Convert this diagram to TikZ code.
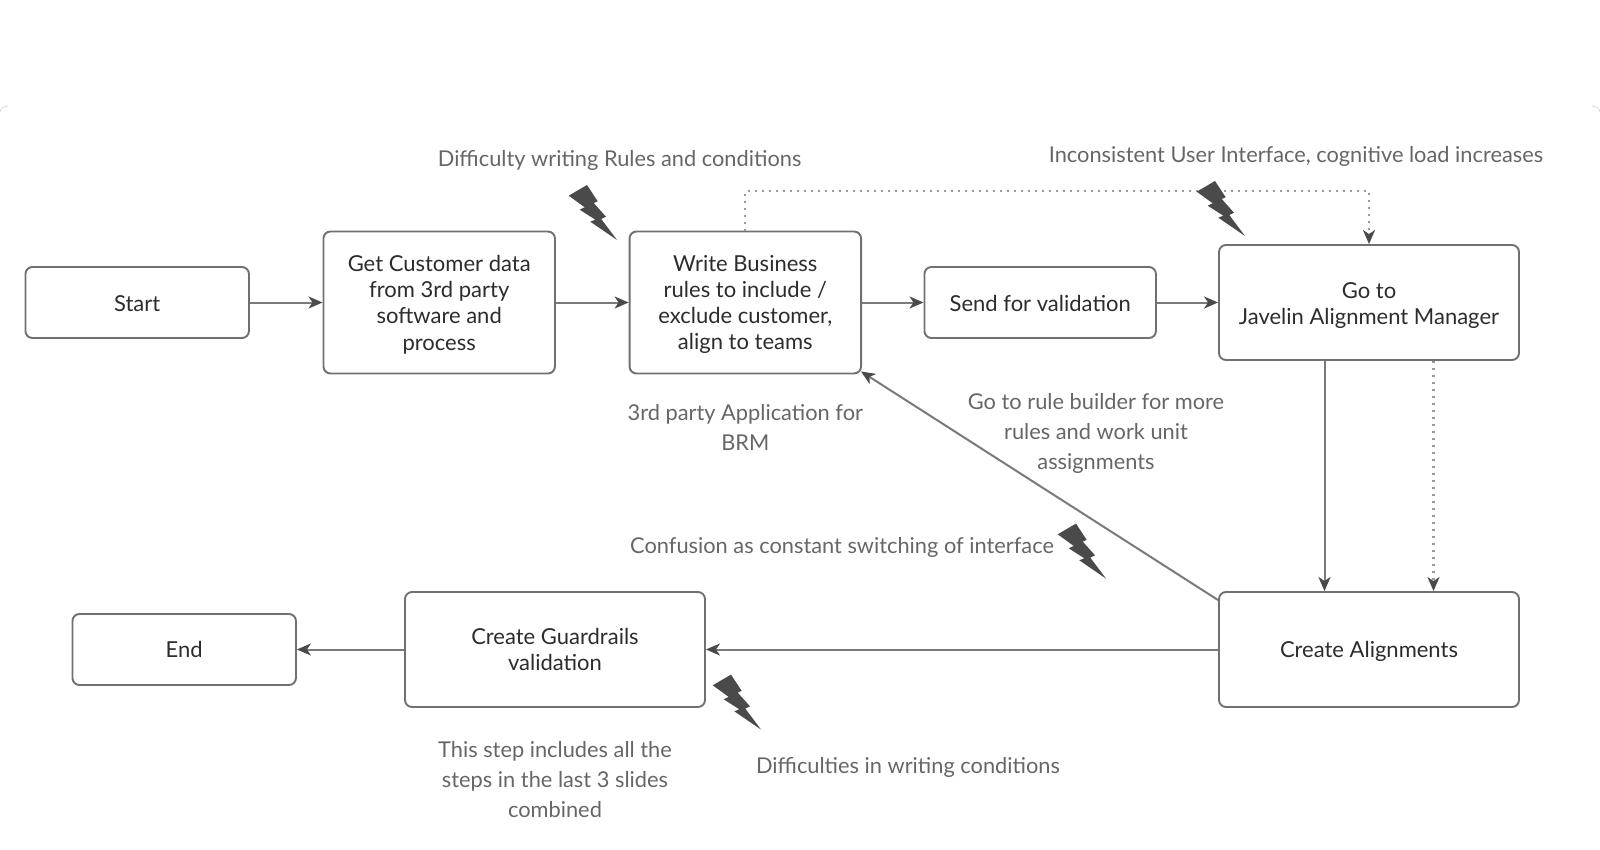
\documentclass[tikz,border=0pt]{standalone}
\usepackage{fontspec}
\setmainfont{Lato}
\usetikzlibrary{arrows.meta}
\definecolor{lineC}{HTML}{707070}
\definecolor{connC}{HTML}{7A7A7A}
\definecolor{dotC}{HTML}{999999}
\definecolor{boxT}{HTML}{2C2C2C}
\definecolor{noteT}{HTML}{666666}
\definecolor{boltC}{HTML}{4A4A4A}
\tikzset{
  x=1pt,y=-1pt,
  flowbox/.style={draw=lineC,line width=1.9pt,rounded corners=7pt,inner sep=0pt},
  boxtext/.style={align=center,text=boxT,inner sep=0pt,font=\fontsize{22}{26.2}\selectfont},
  note/.style={align=center,text=noteT,inner sep=0pt,font=\fontsize{21.8}{30}\selectfont},
  conn/.style={draw=connC,line width=2pt,-{Stealth[inset=4pt,length=14pt,width=12pt,color=boltC]}},
  dotconn/.style={draw=dotC,line width=2.2pt,dash pattern=on 2pt off 5pt,-{Stealth[inset=4pt,length=14pt,width=12pt,color=boltC]}},
  bolt/.pic={\fill[boltC] (0,0) -- (-26.7,-18.3) -- (-21.7,-20.3) -- (-37.3,-30.3) -- (-32.3,-32.7) -- (-48.3,-44.3) -- (-30,-55) -- (-19.3,-38.7) -- (-23.3,-37) -- (-11,-23.3) -- (-15.7,-21) -- cycle;}
}
\begin{document}
\begin{tikzpicture}
\useasboundingbox (0,0) rectangle (1600,850);
\draw[gray!30,line width=.8pt] (0,112) .. controls (1,108) and (3,107) .. (8,106);
\draw[gray!30,line width=.8pt] (1600,112) .. controls (1599,108) and (1597,107) .. (1592,106);

\node[flowbox,minimum width=223.5pt,minimum height=71pt,label={[boxtext,yshift=-1pt]center:Start}] (start) at (137.2,302.5) {};
\node[flowbox,minimum width=231.5pt,minimum height=142pt,label={[boxtext,yshift=-2pt]center:{Get Customer data\\from 3rd party\\software and\\process}}] (get) at (439.2,302.5) {};
\node[flowbox,minimum width=231.5pt,minimum height=142pt,label={[boxtext,yshift=-2pt]center:{Write Business\\rules to include /\\exclude customer,\\align to teams}}] (write) at (745.3,302.5) {};
\node[flowbox,minimum width=231.5pt,minimum height=71pt,label={[boxtext,yshift=-1pt]center:Send for validation}] (send) at (1040.2,302.5) {};
\node[flowbox,minimum width=300pt,minimum height=115pt,label={[boxtext,yshift=-3pt]center:{Go to\\Javelin Alignment Manager}}] (go) at (1369,302.5) {};
\node[flowbox,minimum width=300pt,minimum height=115pt,label={[boxtext,yshift=-2pt]center:Create Alignments}] (align) at (1369,649.5) {};
\node[flowbox,minimum width=300pt,minimum height=115pt,label={[boxtext]center:{Create Guardrails\\validation}}] (guard) at (555,649.5) {};
\node[flowbox,minimum width=223.5pt,minimum height=71pt,label={[boxtext]center:End}] (end) at (184.2,649.5) {};

\node[note] (n1) at (619.6,160) {Difficulty writing Rules and conditions};
\node[note] (n2) at (1296,156.5) {Inconsistent User Interface, cognitive load increases};
\node[note] (n3) at (745.3,427) {3rd party Application for\\BRM};
\node[note] (n4) at (1096,433.5) {Go to rule builder for more\\rules and work unit\\assignments};
\node[note] (n5) at (842,547) {Confusion as constant switching of interface};
\node[note] (n6) at (908,767) {Difficulties in writing conditions};
\node[note] (n7) at (555,780) {This step includes all the\\steps in the last 3 slides\\combined};

\draw[conn] (start) -- (get);
\draw[conn] (get) -- (write);
\draw[conn] (write) -- (send);
\draw[conn] (send) -- (go);
\draw[dotconn] (write.north) -- ++(0,-39.5) -| (go.north);
\draw[conn] ([xshift=-44.5pt]go.south) -- ([xshift=-44.5pt]align.north);
\draw[dotconn] ([xshift=64.5pt]go.south) -- ([xshift=64.5pt]align.north);
\draw[conn] ([yshift=-9pt]align.north west) -- ([xshift=-1pt,yshift=3pt]write.south east);
\draw[conn] (align) -- (guard);
\draw[conn] (guard) -- (end);

\pic at (617,240) {bolt};
\pic at (1245,236) {bolt};
\pic at (1106,578.6) {bolt};
\pic at (761,729.6) {bolt};
\end{tikzpicture}
\end{document}
